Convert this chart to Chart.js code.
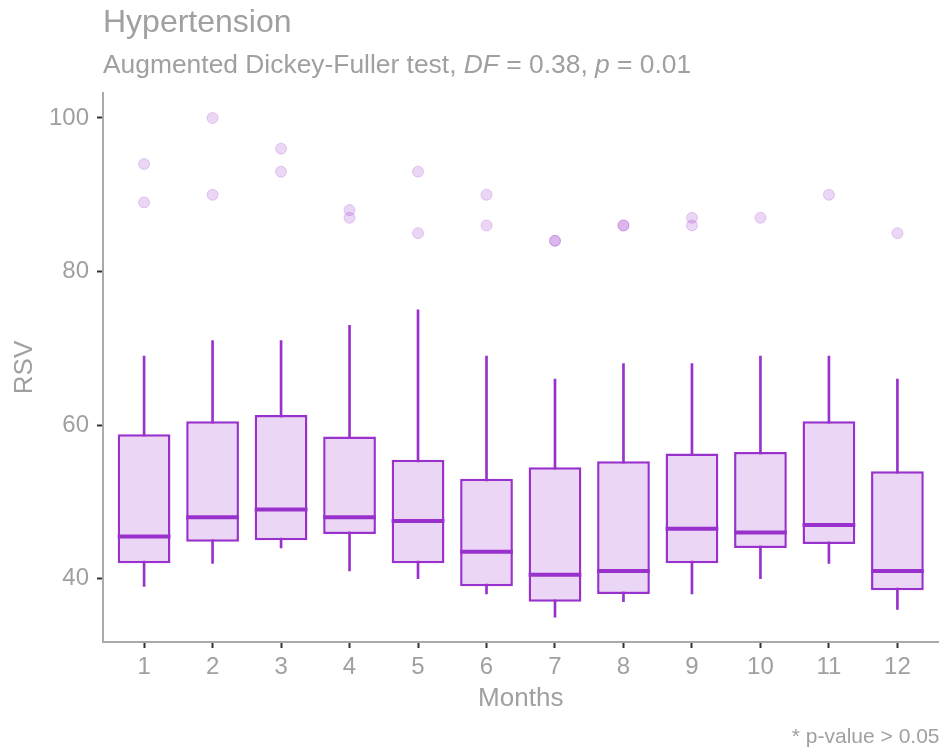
<!doctype html>
<html lang="en">
<head>
  <meta charset="utf-8">
  <title>Hypertension</title>
  <style>
    * {
      margin: 0;
      padding: 0;
    }

    body {
      background: white;
    }

    .chartBox {
      width: 945px;
      height: 749px;
    }
  </style>
</head>
<body>
  <div class="chartBox">
    <canvas id="myChart" width="945" height="749"></canvas>
  </div>
  <script src="https://cdn.jsdelivr.net/npm/chart.js"></script>
  <script>
    // monthly RSV distribution (box stats per month)
    const months = [1, 2, 3, 4, 5, 6, 7, 8, 9, 10, 11, 12];
    const whiskerLow = [39, 42, 44, 41, 40, 38, 35, 37, 38, 40, 42, 36];
    const q1 = [42, 44.8, 45, 45.8, 42, 39, 37, 38, 42, 44, 44.5, 38.5];
    const median = [45.5, 48, 49, 48, 47.5, 43.5, 40.5, 41, 46.5, 46, 47, 41];
    const q3 = [58.8, 60.5, 61.3, 58.5, 55.5, 53, 54.5, 55.3, 56.3, 56.5, 60.5, 54];
    const whiskerHigh = [69, 71, 71, 73, 75, 69, 66, 68, 68, 69, 69, 66];
    const outliers = [[94, 89], [100, 90], [96, 93], [88, 87], [93, 85], [90, 86],
      [84, 84], [86, 86], [87, 86], [87], [90], [85]];
    const yTicks = [40, 60, 80, 100];

    const purple = '#9932CC';
    const grey = '#a0a0a0';
    const font = "'Liberation Sans', Arial, sans-serif";

    // median bars drawn across each box
    const medianLines = {
      id: 'medianLines',
      afterDatasetsDraw(chart) {
        const { ctx, scales: { y } } = chart;
        const boxes = chart.getDatasetMeta(0).data;
        ctx.save();
        ctx.strokeStyle = purple;
        ctx.lineWidth = 4;
        boxes.forEach((bar, i) => {
          const py = y.getPixelForValue(median[i]);
          ctx.beginPath();
          ctx.moveTo(bar.x - bar.width / 2, py);
          ctx.lineTo(bar.x + bar.width / 2, py);
          ctx.stroke();
        });
        ctx.restore();
      }
    };

    // title, subtitle and caption
    const headings = {
      id: 'headings',
      afterDraw(chart) {
        const { ctx, chartArea } = chart;
        ctx.save();
        ctx.fillStyle = grey;
        ctx.textBaseline = 'alphabetic';
        ctx.textAlign = 'left';
        ctx.font = '32px ' + font;
        ctx.fillText('Hypertension', chartArea.left, 32);

        const parts = [
          ['Augmented Dickey-Fuller test, ', ''],
          ['DF', 'italic '],
          [' = 0.38, ', ''],
          ['p', 'italic '],
          [' = 0.01', '']
        ];
        let x = chartArea.left;
        parts.forEach(([text, style]) => {
          ctx.font = style + '26.4px ' + font;
          ctx.fillText(text, x, 73);
          x += ctx.measureText(text).width;
        });

        ctx.font = '21px ' + font;
        ctx.textAlign = 'right';
        ctx.fillText('* p-value > 0.05', chartArea.right + 1, 743);
        ctx.restore();
      }
    };

    const data = {
      datasets: [{
          type: 'bar',
          label: 'IQR',
          data: months.map((m, i) => ({ x: m, y: [q1[i], q3[i]] })),
          backgroundColor: '#ebd6f5',
          borderColor: purple,
          borderWidth: 2.5,
          borderSkipped: false,
          barPercentage: 0.77,
          categoryPercentage: 1,
          grouped: false,
          order: 1
        },
        {
          type: 'bar',
          label: 'Whiskers',
          data: months.map((m, i) => ({ x: m, y: [whiskerLow[i], whiskerHigh[i]] })),
          backgroundColor: purple,
          barThickness: 2,
          grouped: false,
          order: 2
        },
        {
          type: 'scatter',
          label: 'Outliers',
          data: months.flatMap((m, i) => outliers[i].map(v => ({ x: m, y: v }))),
          backgroundColor: 'rgba(153, 50, 204, 0.2)',
          borderColor: 'rgba(153, 50, 204, 0.22)',
          borderWidth: 1,
          pointRadius: 5.5,
          order: 0
        }
      ]
    };

    const config = {
      type: 'bar',
      data,
      options: {
        responsive: false,
        animation: false,
        layout: {
          padding: { top: 93, right: 3, left: 0, bottom: 0 }
        },
        plugins: {
          legend: { display: false },
          tooltip: { enabled: false }
        },
        scales: {
          x: {
            type: 'linear',
            min: 0.4,
            max: 12.6,
            offset: false,
            afterFit: (scale) => { scale.height = 107; },
            afterBuildTicks: (scale) => { scale.ticks = months.map(v => ({ value: v })); },
            grid: {
              offset: false,
              drawOnChartArea: false,
              drawTicks: true,
              tickLength: 6,
              tickWidth: 2,
              tickColor: '#333'
            },
            border: { display: true, color: '#aaaaaa', width: 2 },
            ticks: {
              color: grey,
              padding: 5,
              maxRotation: 0,
              autoSkip: false,
              font: { family: font, size: 24 }
            },
            title: {
              display: true,
              text: 'Months',
              color: grey,
              padding: { top: 0, bottom: 35 },
              font: { family: font, size: 26 }
            }
          },
          y: {
            min: 31.75,
            max: 103.25,
            afterFit: (scale) => { scale.width = 103; },
            afterBuildTicks: (scale) => { scale.ticks = yTicks.map(v => ({ value: v })); },
            grid: {
              drawOnChartArea: false,
              drawTicks: true,
              tickLength: 6,
              tickWidth: 2,
              tickColor: '#333'
            },
            border: { display: true, color: '#aaaaaa', width: 2 },
            ticks: {
              color: grey,
              padding: 8,
              font: { family: font, size: 24 }
            },
            title: {
              display: true,
              text: 'RSV',
              color: grey,
              padding: { top: 9, bottom: 0 },
              font: { family: font, size: 26 }
            }
          }
        }
      },
      plugins: [medianLines, headings]
    };

    const myChart = new Chart(document.getElementById('myChart'), config);
  </script>
</body>
</html>
